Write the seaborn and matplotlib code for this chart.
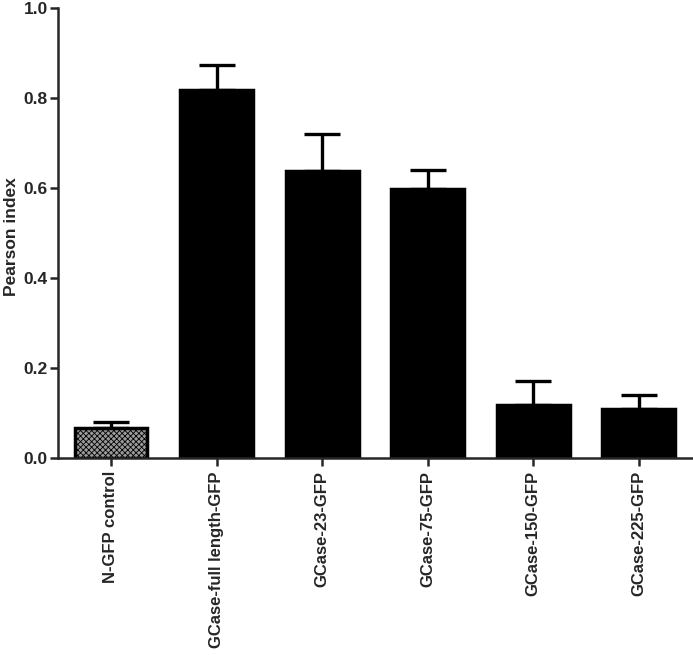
import matplotlib
matplotlib.use("Agg")
import matplotlib.pyplot as plt
import seaborn as sns
import pandas as pd
import numpy as np

categories = ["N-GFP control", "GCase-full length-GFP", "GCase-23-GFP",
              "GCase-75-GFP", "GCase-150-GFP", "GCase-225-GFP"]
values = [0.067, 0.818, 0.638, 0.598, 0.118, 0.109]
errors = [0.013, 0.055, 0.082, 0.042, 0.053, 0.031]
yticks = [0.0, 0.2, 0.4, 0.6, 0.8, 1.0]

sns.set_style("ticks")
plt.rcParams['font.family'] = ['Liberation Sans', 'DejaVu Sans']
plt.rcParams['hatch.color'] = '#555555'
plt.rcParams['hatch.linewidth'] = 0.6

df = pd.DataFrame({"cat": categories, "val": values})
fig = plt.figure(figsize=(6.93, 6.55), dpi=100)
ax = fig.add_axes([0.084, 0.301, 0.914, 0.687])

sns.barplot(data=df, x="cat", y="val", ax=ax, width=0.69,
            color="black", edgecolor="black", linewidth=2.5, errorbar=None,
            zorder=2)
patches = ax.patches
patches[0].set_facecolor("#9a9a9a")
patches[0].set_hatch("xxxxxx")

xs = np.arange(len(categories))
ax.errorbar(xs, values, yerr=[np.zeros(len(errors)), errors], fmt="none",
            ecolor="black", elinewidth=2.4, capsize=13, capthick=2.4, zorder=1)

ax.set_xlim(-0.5, 5.5)
ax.set_ylim(0, 1.0)
ax.set_yticks(yticks)
ax.set_yticklabels([f"{t:.1f}" for t in yticks], fontsize=12.5, fontweight="bold")
ax.set_xticks(xs)
ax.set_xticklabels(categories, rotation=90, fontsize=12, fontweight="bold")
ax.set_xlabel("")
ax.set_ylabel("")
fig.text(0.016, 0.638, "Pearson index", rotation=90, ha="center", va="center",
         fontsize=12.5, fontweight="bold")
sns.despine(ax=ax, top=True, right=True)
for s in ["left", "bottom"]:
    ax.spines[s].set_linewidth(1.8)
ax.tick_params(axis="both", width=1.8, length=6)
ax.tick_params(axis="y", pad=1.5)

fig.savefig("out.png", dpi=100)
